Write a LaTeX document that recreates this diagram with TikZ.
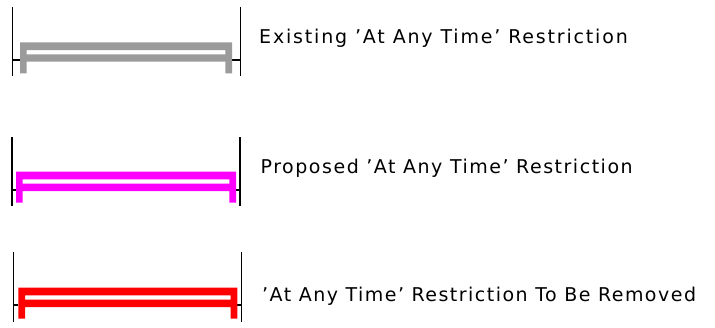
\documentclass[tikz,border=0pt]{standalone}
\usepackage{fontspec}
\setmainfont{DejaVu Sans}
\definecolor{exgrey}{RGB}{155,155,155}
\definecolor{propmag}{RGB}{255,0,255}
\definecolor{remred}{RGB}{255,0,0}
\tikzset{
  endline/.style={draw=black, line width=1.3pt},
  lbl/.style={anchor=base west, inner sep=0pt, font=\fontsize{19}{22}\selectfont},
}
\newcommand{\rshape}[4]{%
  \fill[#4, even odd rule] (#1,#3) -- (#2,#3) -- (#2,{#3+31}) -- ({#2-6.7},{#3+31}) -- ({#2-6.7},{#3+19.4}) -- ({#1+6.7},{#3+19.4}) -- ({#1+6.7},{#3+31}) -- (#1,{#3+31}) -- cycle
    ({#1+6.7},{#3+7.7}) rectangle ({#2-6.7},{#3+12});}
\begin{document}
\begin{tikzpicture}[x=1pt,y=-1pt]
\useasboundingbox (0,0) rectangle (715,327);
% row 1
\draw[endline] (12.7,7) -- (12.7,76);
\draw[endline] (240.7,7) -- (240.7,76);
\draw[endline] (12.7,60) -- (20,60);
\draw[endline] (232,60) -- (240.7,60);
\rshape{20}{232}{42.3}{exgrey}
\node[lbl] (t1) at (259,43.5) {\addfontfeature{LetterSpace=9.6}Existing 'At Any Time' Restriction};
% row 2
\draw[endline] (12,137.3) -- (12,206);
\draw[endline] (240,137.3) -- (240,206);
\draw[endline] (12,190) -- (16,190);
\draw[endline] (236,190) -- (240,190);
\rshape{16}{236}{171.7}{propmag}
\node[lbl] (t2) at (260.5,173.3) {\addfontfeature{LetterSpace=8.0}Proposed 'At Any Time' Restriction};
% row 3
\draw[endline] (13.3,252.3) -- (13.3,321.7);
\draw[endline] (241.7,252.3) -- (241.7,321.7);
\draw[endline] (13.3,305) -- (18.3,305);
\draw[endline] (237.3,305) -- (241.7,305);
\rshape{18.3}{237.3}{287.7}{remred}
\node[lbl] (t3) at (262,301.7) {\addfontfeature{LetterSpace=7.8}'At Any Time' Restriction To Be Removed};
\end{tikzpicture}
\end{document}
